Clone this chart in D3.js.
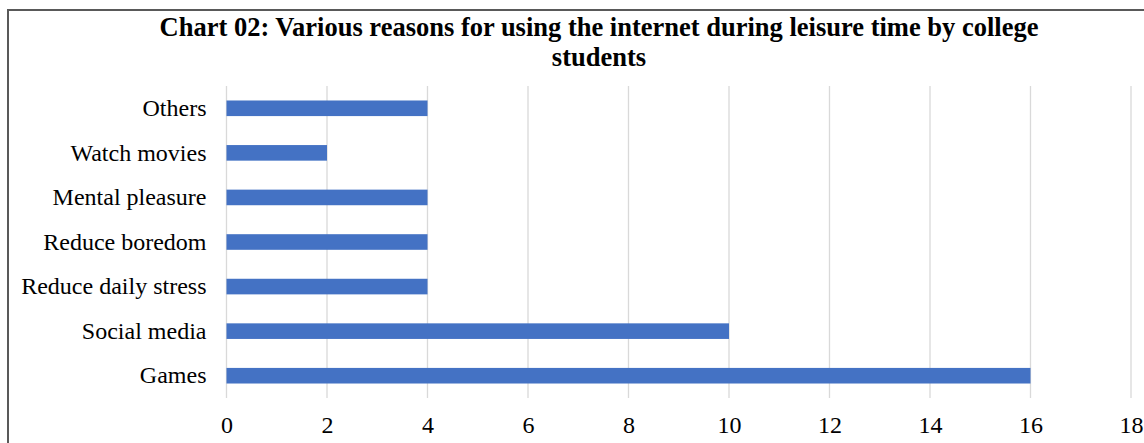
<!DOCTYPE html>
<html><head><meta charset="utf-8">
<script src="https://cdn.jsdelivr.net/npm/d3@7/dist/d3.min.js"></script>
<style>body{margin:0;background:#fff;}svg{display:block;}</style>
</head><body>
<script>
const categories = ["Others","Watch movies","Mental pleasure","Reduce boredom","Reduce daily stress","Social media","Games"];
const values = [4,2,4,4,4,10,16];
const xTicks = [0,2,4,6,8,10,12,14,16,18];
const titleLines = ["Chart 02: Various reasons for using the internet during leisure time by college","students"];

const W=1144,H=443;
const svg=d3.select("body").append("svg").attr("width",W).attr("height",H);
svg.append("rect").attr("x",8).attr("y",10).attr("width",1150).attr("height",450)
  .attr("fill","#fff").attr("stroke","#595959").attr("stroke-width",2);

const font="'Liberation Serif','Times New Roman',serif";
svg.selectAll("text.title").data(titleLines).enter().append("text")
  .attr("x",599).attr("y",(d,i)=>36+i*30).attr("text-anchor","middle")
  .style("font-family",font).style("font-weight","bold").style("font-size","26.5px").attr("fill","#000").text(d=>d);

const x=d3.scaleLinear().domain([0,18]).range([226.5,1131]);
const y=d3.scaleBand().domain(categories).range([86,398]).paddingInner(0.65).paddingOuter(0.325);

const g=svg.append("g");
g.selectAll("line.grid").data(xTicks).enter().append("line")
  .attr("x1",d=>x(d)).attr("x2",d=>x(d)).attr("y1",86).attr("y2",398)
  .attr("stroke","#d9d9d9").attr("stroke-width",1.3);

g.selectAll("rect.bar").data(values).enter().append("rect")
  .attr("x",x(0)).attr("y",(d,i)=>y(categories[i])).attr("width",d=>x(d)-x(0)).attr("height",y.bandwidth())
  .attr("fill","#4472C4");

const xa=svg.append("g").attr("transform","translate(0,398)")
  .call(d3.axisBottom(x).tickValues(xTicks).tickSize(0).tickPadding(18));
xa.select(".domain").remove();
xa.selectAll("text").style("font-family",font).style("font-size","24px").attr("fill","#000");

const ya=svg.append("g").attr("transform","translate(226.5,0)")
  .call(d3.axisLeft(y).tickSize(0).tickPadding(20));
ya.select(".domain").remove();
ya.selectAll("text").style("font-family",font).style("font-size","24px").attr("fill","#000");
</script>
</body></html>
